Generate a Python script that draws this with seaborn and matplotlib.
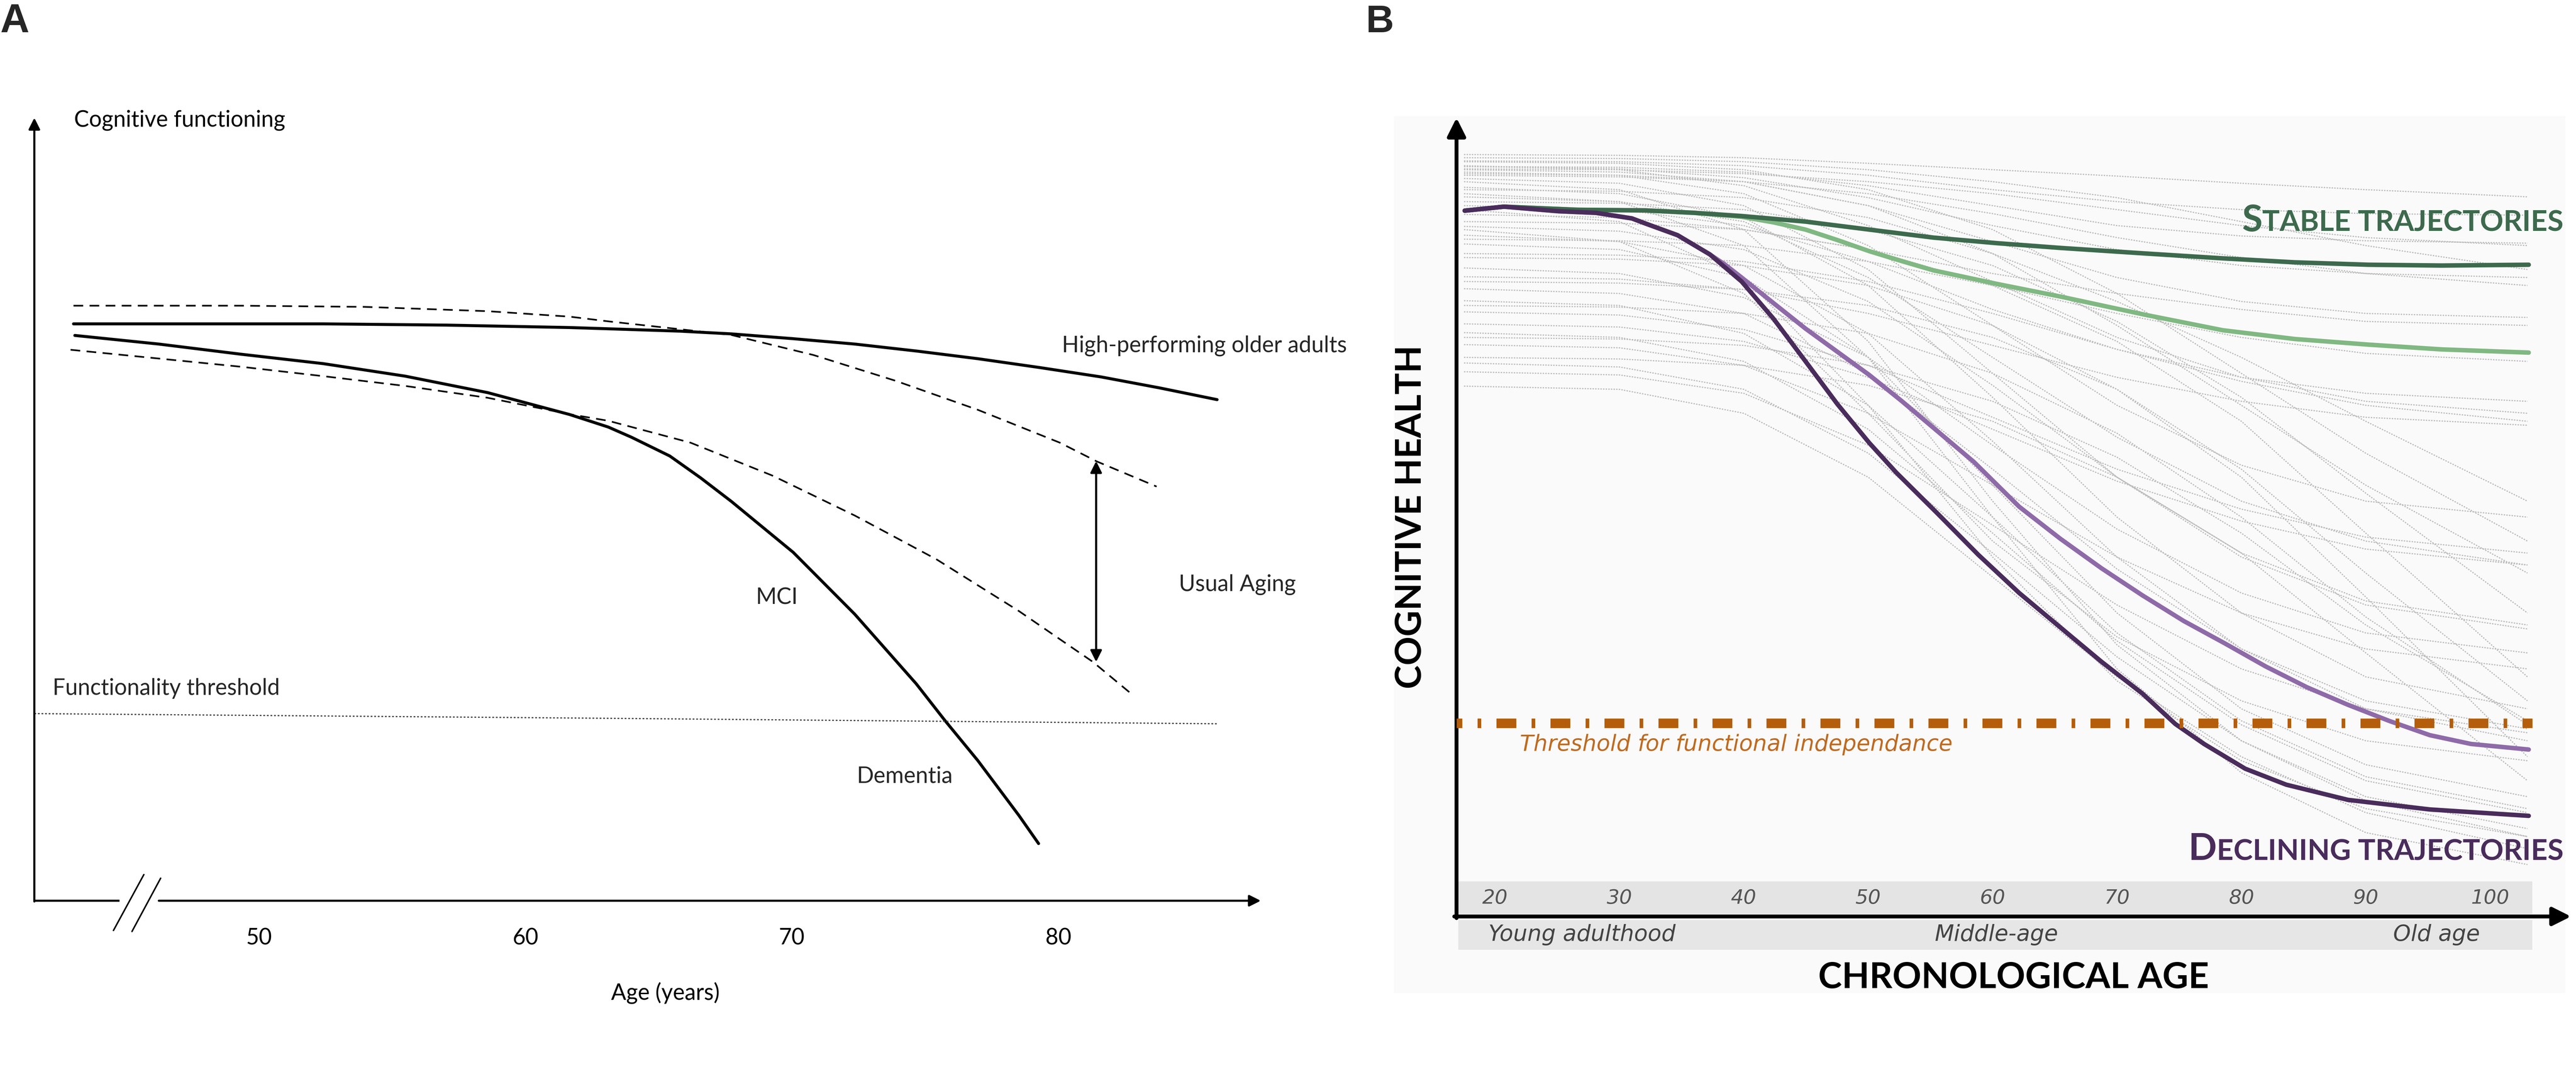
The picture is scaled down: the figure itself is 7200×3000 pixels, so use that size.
import numpy as np
import pandas as pd
import matplotlib
matplotlib.use("Agg")
import matplotlib.pyplot as plt
from matplotlib.patches import Rectangle
import seaborn as sns

# ---------------- Panel A data ----------------
a_ticks = [50, 60, 70, 80]

a_high_age = [43.04, 47.5, 52.41, 57.04, 61.66, 63.11, 65.79, 67.73, 70.0, 72.36, 74.7, 76.98, 79.3, 81.61, 83.8, 85.96]
a_high_val = [73.68, 73.68, 73.68, 73.52, 73.21, 73.05, 72.75, 72.40, 71.8, 71.1, 70.2, 69.23, 68.1, 66.9, 65.5, 64.0]

a_upper_age = [43.04, 49.33, 53.95, 58.58, 61.66, 63.11, 65.79, 67.73, 70.81, 73.90, 76.98, 80.06, 81.45, 83.69]
a_upper_val = [76.0, 76.0, 75.85, 75.3, 74.6, 74.0, 73.0, 72.26, 69.7, 66.4, 62.7, 58.5, 56.1, 52.9]

a_lower_age = [42.93, 46.24, 49.33, 52.41, 55.49, 58.58, 61.66, 63.11, 66.2, 69.27, 72.36, 75.43, 78.52, 81.30, 82.68]
a_lower_val = [70.37, 69.25, 68.2, 67.0, 65.75, 64.24, 62.14, 61.3, 58.5, 54.3, 49.2, 43.6, 37.0, 30.5, 26.6]

a_mci_age = [43.09, 46.24, 49.33, 52.41, 55.49, 58.58, 61.66, 63.11, 63.98, 65.42, 66.58, 67.73, 70.05,
             72.36, 74.67, 75.75, 76.98, 78.52, 79.26]
a_mci_val = [72.2, 71.1, 69.8, 68.6, 67.0, 64.9, 62.1, 60.5, 59.2, 56.8, 54.0, 51.0, 44.5,
             36.6, 27.7, 23.0, 17.9, 10.9, 7.3]

a_thresh_age = [41.57, 63.11, 85.96]
a_thresh_val = [23.9, 23.3, 22.6]

a_range_age = 81.42
a_range_top = 56.15
a_range_bottom = 30.5

# ---------------- Panel B data ----------------
b_ticks = [20, 30, 40, 50, 60, 70, 80, 90, 100]
b_stages = ["Young adulthood", "Middle-age", "Old age"]
b_stage_age = [27.0, 60.3, 95.7]

b_dgreen_age = [17.56, 20.72, 26.6, 32.11, 36.0, 39.82, 44.96, 50.08, 55.23, 60.35, 65.5, 72.37, 78.5, 84.3, 90.2, 96.1, 103.1]
b_dgreen_val = [88.37, 88.87, 88.48, 88.4, 88.1, 87.7, 87.0, 86.0, 85.0, 84.3, 83.7, 83.0, 82.4, 81.9, 81.6, 81.5, 81.6]

b_lgreen_age = [17.56, 20.72, 26.6, 32.11, 36.0, 39.82, 42.4, 44.96, 47.5, 50.08, 52.6, 55.23, 60.35, 65.5, 72.37,
                78.5, 84.3, 90.2, 96.1, 103.1]
b_lgreen_val = [88.37, 88.87, 88.48, 88.4, 88.1, 87.6, 86.9, 86.0, 84.7, 83.3, 82.1, 80.9, 79.2, 77.6, 75.3,
                73.4, 72.3, 71.6, 71.0, 70.6]

b_dpurple_age = [17.56, 20.72, 25.1, 28.1, 31.0, 32.11, 34.67, 37.26, 39.82, 42.38, 44.96, 47.52, 50.08, 52.24,
                 55.54, 58.84, 62.14, 65.44, 68.75, 72.05, 74.69, 77.0, 80.31, 83.61, 88.57, 95.15, 103.1]
b_dpurple_val = [88.37, 88.87, 88.3, 88.1, 87.4, 86.75, 85.3, 82.9, 79.5, 74.85, 69.5, 64.15, 59.3, 55.6,
                 50.5, 45.3, 40.5, 36.2, 31.9, 27.9, 24.1, 21.6, 18.5, 16.5, 14.6, 13.4, 12.6]

b_lpurple_age = [17.56, 20.72, 25.1, 28.1, 31.0, 32.11, 34.67, 37.26, 38.5, 39.82, 42.38, 44.96, 47.52, 50.08,
                 52.64, 55.23, 58.5, 62.14, 65.44, 68.75, 72.05, 75.36, 78.66, 81.96, 85.27, 88.57, 91.86,
                 95.15, 98.46, 103.1]
b_lpurple_val = [88.37, 88.87, 88.3, 88.1, 87.4, 86.75, 85.3, 82.9, 81.6, 80.0, 76.8, 73.6, 70.7, 67.8,
                 64.6, 61.2, 56.9, 51.3, 47.3, 43.6, 40.2, 37.0, 34.2, 31.3, 28.7, 26.5, 24.5,
                 22.7, 21.6, 20.9]

b_threshold = 24.2

b_grey_ages = [17.5, 30, 40, 50, 60, 70, 80, 90, 103]
b_grey_values = [
    [95.4, 95.3, 95.0, 94.3, 93.5, 92.7, 91.8, 91.0, 90.1],
    [94.6, 94.5, 94.0, 92.8, 91.0, 89.5, 88.5, 88.0, 87.8],
    [93.9, 93.8, 93.2, 91.5, 89.0, 86.5, 85.2, 84.6, 84.3],
    [93.9, 93.6, 92.5, 90.0, 86.5, 83.5, 81.5, 80.5, 80.0],
    [93.5, 93.2, 92.0, 89.0, 84.5, 80.0, 77.0, 75.5, 75.0],
    [94.0, 93.5, 91.5, 86.5, 79.5, 72.5, 67.5, 64.5, 63.0],
    [93.2, 92.8, 90.5, 84.0, 74.0, 64.0, 56.5, 52.0, 50.0],
    [92.4, 91.8, 89.0, 81.0, 68.0, 55.0, 45.0, 39.0, 36.0],
    [91.3, 90.5, 87.5, 79.0, 65.0, 50.0, 38.0, 30.0, 26.0],
    [90.1, 89.5, 87.0, 80.0, 70.0, 60.0, 52.0, 47.0, 44.0],
    [89.0, 88.5, 86.5, 82.0, 76.0, 71.0, 67.5, 65.5, 64.5],
    [87.9, 87.5, 86.0, 83.5, 80.5, 78.0, 76.0, 74.5, 74.0],
    [86.4, 85.8, 83.5, 77.0, 66.5, 55.0, 45.5, 39.5, 36.5],
    [85.3, 84.5, 81.5, 73.0, 59.5, 45.0, 33.5, 26.0, 22.0],
    [84.2, 83.5, 80.0, 70.0, 54.0, 38.0, 26.0, 19.0, 15.0],
    [81.2, 80.5, 77.5, 70.0, 59.0, 48.5, 40.5, 35.5, 33.0],
    [80.1, 79.8, 78.5, 75.5, 71.5, 67.5, 64.5, 62.5, 61.5],
    [78.6, 78.0, 75.5, 68.0, 56.0, 43.5, 33.5, 27.0, 23.5],
    [77.1, 76.5, 73.0, 64.0, 50.0, 35.5, 24.5, 17.5, 13.5],
    [75.7, 75.3, 73.5, 69.0, 62.5, 56.0, 51.0, 47.5, 45.5],
    [74.2, 73.8, 72.0, 67.5, 61.0, 54.5, 49.5, 46.0, 44.0],
    [73.1, 72.5, 69.5, 61.0, 48.0, 34.5, 24.0, 17.0, 13.0],
    [71.6, 71.2, 69.0, 63.0, 54.0, 45.0, 38.0, 33.5, 31.0],
    [69.3, 68.8, 66.0, 58.0, 45.5, 32.5, 22.0, 15.0, 11.0],
    [68.2, 67.8, 65.5, 59.0, 49.0, 39.0, 31.0, 26.0, 23.0],
    [66.4, 66.0, 63.0, 55.0, 42.5, 30.0, 20.0, 13.0, 8.5],
    [92.0, 91.0, 86.0, 72.0, 52.0, 34.0, 22.0, 14.5, 10.0],
    [90.5, 89.5, 84.0, 70.0, 50.0, 31.0, 18.0, 10.5, 6.5],
    [88.5, 87.0, 80.0, 64.0, 45.0, 29.5, 19.5, 13.5, 10.0],
    [86.0, 84.5, 78.0, 63.0, 47.0, 35.0, 27.0, 22.0, 19.5],
    [93.0, 92.8, 92.0, 89.0, 83.0, 74.0, 64.0, 54.0, 43.0],
    [94.5, 94.3, 93.5, 91.0, 86.0, 78.0, 68.0, 58.0, 47.0],
    [91.0, 90.8, 90.0, 87.5, 83.0, 77.0, 70.0, 62.0, 52.0],
    [89.5, 89.3, 88.5, 86.0, 81.5, 74.5, 65.0, 53.0, 38.0],
    [87.0, 86.8, 86.0, 83.5, 79.0, 72.0, 62.0, 48.0, 30.0],
    [82.5, 82.3, 81.5, 79.0, 74.0, 66.0, 55.0, 40.0, 20.0],
    [79.5, 79.3, 78.5, 76.5, 72.5, 66.0, 56.0, 43.0, 27.0],
    [76.5, 76.3, 75.5, 73.0, 68.0, 60.5, 50.0, 37.5, 24.0],
    [72.5, 72.3, 71.5, 69.0, 64.5, 57.5, 48.0, 36.5, 24.5],
    [70.0, 69.8, 69.0, 66.5, 62.0, 55.0, 45.5, 33.0, 17.0],
    [95.0, 94.9, 94.5, 93.5, 92.0, 90.0, 87.0, 84.0, 81.0],
    [93.6, 93.5, 93.0, 92.0, 90.5, 88.5, 86.5, 85.0, 84.0],
    [92.8, 92.6, 92.0, 90.5, 88.0, 85.0, 82.5, 80.5, 79.0],
    [84.8, 84.6, 84.0, 82.0, 79.0, 75.5, 72.5, 70.5, 69.5],
    [83.0, 82.8, 82.0, 79.5, 75.5, 71.0, 67.0, 64.0, 62.0],
]

# ---------------- Style ----------------
sns.set_theme(style="white")
plt.rcParams['font.family'] = ['Lato', 'DejaVu Sans']

GREEN_D = '#3d6a4d'
GREEN_L = '#80b882'
PURPLE_D = '#4a2c5c'
PURPLE_L = '#8f6aa9'
ORANGE = '#b45d0b'
GEO = ['DejaVu Sans']

fig = plt.figure(figsize=(24, 10), dpi=300)
fig.patch.set_facecolor('white')

# faint background behind panel B
fig.add_artist(Rectangle((3896 / 7200, 1 - 2774 / 3000), (7170 - 3896) / 7200, (2774 - 324) / 3000,
                         transform=fig.transFigure, facecolor='#fafafa', edgecolor='none', zorder=-5))

# ================= Panel A =================
axA = fig.add_axes([0.01333, 0.16133, 0.47611, 0.729])
axA.set_facecolor('none')
axA.set_xlim(41.57, 87.6)
axA.set_ylim(0, 100)
for s in axA.spines.values():
    s.set_visible(False)

sns.lineplot(x=a_high_age, y=a_high_val, ax=axA, color='black', lw=2.0, sort=False)
sns.lineplot(x=a_mci_age, y=a_mci_val, ax=axA, color='black', lw=2.0, sort=False)
sns.lineplot(x=a_upper_age, y=a_upper_val, ax=axA, color='black', lw=1.1, sort=False,
             linestyle=(0, (5.9, 3.9)))
sns.lineplot(x=a_lower_age, y=a_lower_val, ax=axA, color='black', lw=1.1, sort=False,
             linestyle=(0, (5.9, 3.9)))
sns.lineplot(x=a_thresh_age, y=a_thresh_val, ax=axA, color='#444444', lw=0.8, sort=False,
             linestyle=(0, (1.5, 1.5)))

# axes with arrows and break
arrowA = dict(arrowstyle='-|>', color='black', lw=1.4, mutation_scale=16, shrinkA=0, shrinkB=0)
axA.annotate('', xy=(0, 1), xytext=(0, -0.001), xycoords='axes fraction', arrowprops=arrowA)
axA.plot([0, 0.0694], [0, 0], transform=axA.transAxes, color='black', lw=1.4, clip_on=False,
         solid_capstyle='butt')
axA.annotate('', xy=(1, 0), xytext=(0.1015, 0), xycoords='axes fraction', arrowprops=arrowA)
axA.plot([0.0645, 0.0893], [-0.038, 0.0334], transform=axA.transAxes, color='black', lw=1.0, clip_on=False)
axA.plot([0.0796, 0.1030], [-0.0393, 0.0288], transform=axA.transAxes, color='black', lw=1.0, clip_on=False)

# double arrow
axA.annotate('', xy=(a_range_age, a_range_top), xytext=(a_range_age, a_range_bottom),
             arrowprops=dict(arrowstyle='<|-|>', color='black', lw=1.4, mutation_scale=16,
                             shrinkA=0, shrinkB=0))

fsA = 15
axA.text(80.14, 70.9, "High-performing older adults", ha='left', va='center', fontsize=fsA)
axA.text(84.52, 40.4, "Usual Aging", ha='left', va='center', fontsize=fsA)
axA.text(68.64, 38.7, "MCI", ha='left', va='center', fontsize=fsA)
axA.text(72.43, 15.9, "Dementia", ha='left', va='center', fontsize=fsA)
axA.text(42.26, 27.1, "Functionality threshold", ha='left', va='center', fontsize=fsA)

axA.set_xticks(a_ticks)
axA.set_xticklabels([str(t) for t in a_ticks])
axA.set_yticks([])
axA.tick_params(axis='x', length=0, pad=25, labelsize=fsA, labelcolor='black')
for lab in axA.get_xticklabels():
    lab.set_va('center')

axA.set_xlabel("Age (years)", fontsize=fsA, color='black')
axA.xaxis.set_label_coords(0.5145, -0.118)
axA.xaxis.label.set_va('center')
axA.set_ylabel("Cognitive functioning", rotation=0, fontsize=fsA, color='black', ha='left', va='center')
axA.yaxis.set_label_coords(0.0323, 0.997)

fig.text(0.0, 1 - 8 / 3000, 'A', fontsize=27, fontweight='bold', family=['Liberation Sans', 'DejaVu Sans'],
         ha='left', va='top')

# ================= Panel B =================
axB = fig.add_axes([0.56542, 0.14667, 0.43264, 0.74367])
axB.set_facecolor('none')
axB.set_xlim(16.9, 106.5)
axB.set_ylim(0, 100)
for s in axB.spines.values():
    s.set_visible(False)

# bands for tick labels / life stages
axB.add_patch(Rectangle((16.9, 0.31), 103.4 - 16.9, 4.1, facecolor='#e4e4e4', edgecolor='none', zorder=0.5))
axB.add_patch(Rectangle((17.05, -4.17), 103.4 - 17.05, 3.72, facecolor='#e6e6e6', edgecolor='none',
                        zorder=0.5, clip_on=False))

grey_df = pd.DataFrame([
    {'id': i, 'age': a, 'value': v}
    for i, row in enumerate(b_grey_values)
    for a, v in zip(b_grey_ages, row)
])
sns.lineplot(data=grey_df, x='age', y='value', units='id', estimator=None, ax=axB,
             color='#bdbdbd', lw=0.8, linestyle=(0, (1.2, 1.0)), sort=False, legend=False, zorder=1)

sns.lineplot(x=b_lgreen_age, y=b_lgreen_val, ax=axB, color=GREEN_L, lw=3.0, sort=False, zorder=3)
sns.lineplot(x=b_dgreen_age, y=b_dgreen_val, ax=axB, color=GREEN_D, lw=3.0, sort=False, zorder=3.2)
sns.lineplot(x=b_lpurple_age, y=b_lpurple_val, ax=axB, color=PURPLE_L, lw=3.0, sort=False, zorder=3.1)
sns.lineplot(x=b_dpurple_age, y=b_dpurple_val, ax=axB, color=PURPLE_D, lw=3.0, sort=False, zorder=3.3)

axB.axhline(b_threshold, xmin=0, xmax=(103.4 - 16.9) / (106.5 - 16.9), color=ORANGE, lw=6.4,
            linestyle=(1.49, (2.08, 1.6, 0.38, 1.6)), dash_capstyle='butt', zorder=4)
axB.text(22.0, 21.5, "Threshold for functional independance", ha='left', va='center',
         fontsize=15, style='italic', color='#c06a20', family=GEO)

# small-caps labels
t1 = axB.text(105.9, 85.8, "TABLE TRAJECTORIES", ha='right', va='baseline', fontsize=19.5,
              fontweight='bold', color=GREEN_D, zorder=5)
axB.annotate("S", xy=(0, 85.8), xycoords=(t1, 'data'), ha='right', va='baseline', fontsize=25,
             fontweight='bold', color=GREEN_D, zorder=5)
t2 = axB.text(105.9, 7.06, "ECLINING TRAJECTORIES", ha='right', va='baseline', fontsize=19.5,
              fontweight='bold', color=PURPLE_D, zorder=5)
axB.annotate("D", xy=(0, 7.06), xycoords=(t2, 'data'), ha='right', va='baseline', fontsize=25,
             fontweight='bold', color=PURPLE_D, zorder=5)

for lab, a in zip(b_stages, b_stage_age):
    axB.text(a, -2.3, lab, ha='center', va='center', fontsize=15, style='italic', color='#444444',
             clip_on=False, family=GEO)

arrowB = dict(arrowstyle='-|>', color='black', lw=2.6, mutation_scale=26, shrinkA=0, shrinkB=0)
axB.annotate('', xy=(0, 1), xytext=(0, -0.002), xycoords='axes fraction', arrowprops=arrowB)
axB.annotate('', xy=(1, 0), xytext=(-0.002, 0), xycoords='axes fraction', arrowprops=arrowB)

axB.set_xticks(b_ticks)
axB.set_xticklabels([str(t) for t in b_ticks])
axB.set_yticks([])
axB.tick_params(axis='x', length=0, pad=-12.5, labelsize=13.5, labelcolor='#555555')
for lab in axB.get_xticklabels():
    lab.set_va('center')
    lab.set_style('italic')
    lab.set_family(GEO)

axB.set_xlabel("CHRONOLOGICAL AGE", fontsize=24, fontweight='bold', color='black')
axB.xaxis.set_label_coords(0.5, -0.077)
axB.xaxis.label.set_va('center')
axB.set_ylabel("COGNITIVE HEALTH", fontsize=24, fontweight='bold', color='black')
axB.yaxis.set_label_coords(-0.041, 0.5)
axB.yaxis.label.set_va('center')

fig.text(3818 / 7200, 1 - 12 / 3000, 'B', fontsize=26, fontweight='bold',
         family=['Liberation Sans', 'DejaVu Sans'], ha='left', va='top')

fig.savefig("out.png", dpi=300)
